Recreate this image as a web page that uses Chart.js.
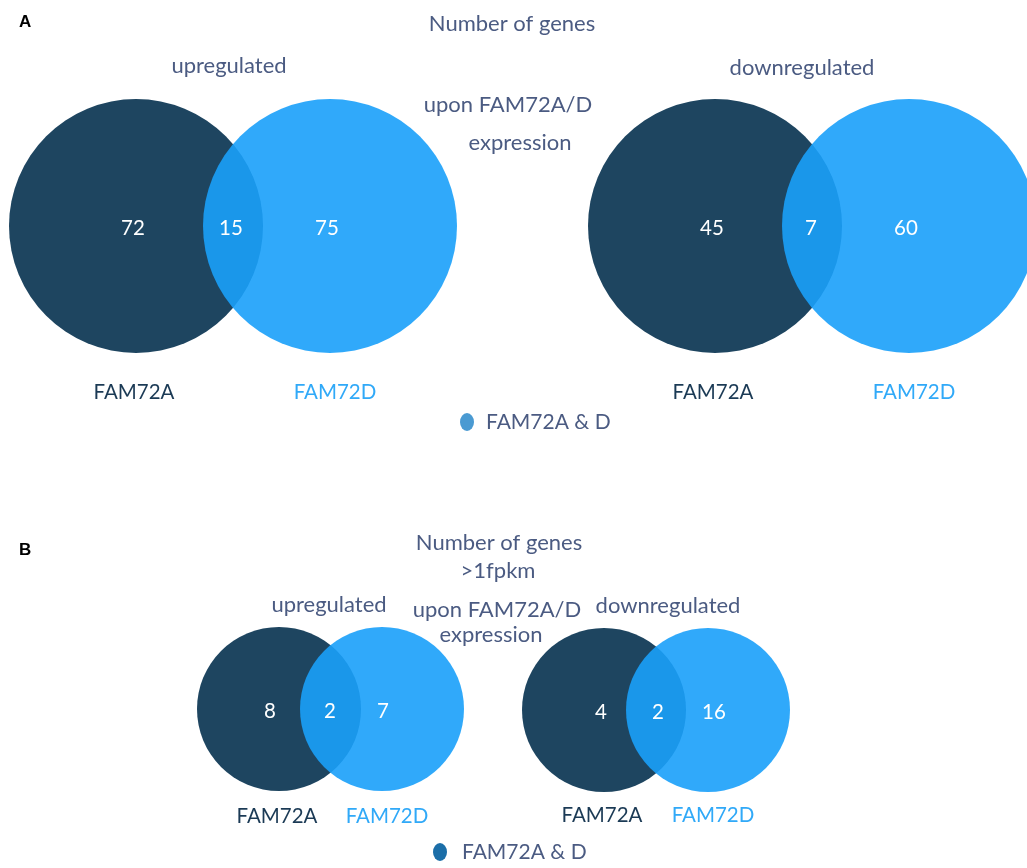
<!DOCTYPE html>
<html>
<head>
<meta charset="utf-8">
<script src="https://cdn.jsdelivr.net/npm/chart.js@4.4.1/dist/chart.umd.min.js"></script>
<style>
  html, body { margin: 0; padding: 0; background: #fff; }
  #wrap { width: 1027px; height: 868px; }
</style>
</head>
<body>
<div id="wrap"><canvas id="venn" width="1027" height="868"></canvas></div>
<script>
// gene counts per region: [FAM72A only, both, FAM72D only]
const upAll = [72, 15, 75];
const downAll = [45, 7, 60];
const upFpkm = [8, 2, 7];
const downFpkm = [4, 2, 16];
const setNames = ['FAM72A', 'FAM72D'];
const bothLabel = 'FAM72A & D';

// where each diagram sits on the page (pixel space of the hidden scales)
const diagrams = [
  { counts: upAll,    ax: 136, dx: 330, y: 226, r: 127, labelY: 392, nums: [133, 231, 327] },
  { counts: downAll,  ax: 715, dx: 909, y: 226, r: 127, labelY: 392, nums: [712, 811, 906] },
  { counts: upFpkm,   ax: 279, dx: 382, y: 709, r: 82,  labelY: 816, nums: [270, 330, 383] },
  { counts: downFpkm, ax: 604, dx: 708, y: 710, r: 82,  labelY: 815, nums: [601, 658, 714] }
];

const titleColor = '#4b5b82';
const darkColor = '#1e4560';
const lightColor = 'rgba(25,160,249,0.9)';
const font = 'Lato, "Open Sans", sans-serif';

const texts = [
  { t: 'A', x: 19, y: 22, bold: true, color: '#000', size: 17, align: 'left' },
  { t: 'Number of genes', x: 512, y: 24 },
  { t: 'upregulated', x: 229, y: 66 },
  { t: 'upon FAM72A/D', x: 508, y: 105 },
  { t: 'expression', x: 520, y: 143 },
  { t: 'downregulated', x: 802, y: 68 },
  { t: 'B', x: 19, y: 550, bold: true, color: '#000', size: 17, align: 'left' },
  { t: 'Number of genes', x: 499, y: 543 },
  { t: '>1fpkm', x: 498, y: 571 },
  { t: 'upregulated', x: 329, y: 605 },
  { t: 'upon FAM72A/D', x: 497, y: 610 },
  { t: 'downregulated', x: 668, y: 606 },
  { t: 'expression', x: 491, y: 635 }
];

const legends = [
  { x: 467, y: 422, color: '#4a9ad2', tx: 486 },
  { x: 440, y: 852, color: '#1b6ea8', tx: 462 }
];

const vennText = {
  id: 'vennText',
  afterDatasetsDraw(chart) {
    const { ctx, scales: { x, y } } = chart;
    ctx.save();
    ctx.textBaseline = 'middle';

    texts.forEach(s => {
      ctx.fillStyle = s.color || titleColor;
      ctx.textAlign = s.align || 'center';
      ctx.font = (s.bold ? 'bold ' : '') + (s.size || 22) + 'px ' + (s.bold ? 'Arial, "Liberation Sans", sans-serif' : font);
      ctx.fillText(s.t, x.getPixelForValue(s.x), y.getPixelForValue(s.y));
    });

    diagrams.forEach(d => {
      ctx.textAlign = 'center';
      ctx.font = '20.5px ' + font;
      ctx.fillStyle = '#fff';
      d.counts.forEach((c, i) => {
        ctx.fillText(String(c), x.getPixelForValue(d.nums[i]), y.getPixelForValue(d.y + 2));
      });
      ctx.fillStyle = '#1b3a55';
      ctx.fillText(setNames[0], x.getPixelForValue(d.ax - 2), y.getPixelForValue(d.labelY));
      ctx.fillStyle = '#30a9f8';
      ctx.fillText(setNames[1], x.getPixelForValue(d.dx + 5), y.getPixelForValue(d.labelY));
    });

    legends.forEach(l => {
      ctx.fillStyle = l.color;
      ctx.beginPath();
      ctx.ellipse(x.getPixelForValue(l.x), y.getPixelForValue(l.y), 7, 9, 0, 0, Math.PI * 2);
      ctx.fill();
      ctx.fillStyle = titleColor;
      ctx.textAlign = 'left';
      ctx.font = '21px ' + font;
      ctx.fillText(bothLabel, x.getPixelForValue(l.tx), y.getPixelForValue(l.y));
    });
    ctx.restore();
  }
};

// dataset 0 is painted last, so the translucent FAM72D circles sit on top
new Chart(document.getElementById('venn'), {
  type: 'bubble',
  data: {
    datasets: [
      {
        label: setNames[1],
        data: diagrams.map(d => ({ x: d.dx, y: d.y, r: d.r })),
        backgroundColor: lightColor,
        borderWidth: 0,
        hoverRadius: 0,
        clip: false
      },
      {
        label: setNames[0],
        data: diagrams.map(d => ({ x: d.ax, y: d.y, r: d.r })),
        backgroundColor: darkColor,
        borderWidth: 0,
        hoverRadius: 0,
        clip: false
      }
    ]
  },
  options: {
    responsive: false,
    animation: false,
    events: [],
    layout: { padding: 0, autoPadding: false },
    plugins: { legend: { display: false }, tooltip: { enabled: false } },
    scales: {
      x: { type: 'linear', min: 0, max: 1027, display: false },
      y: { type: 'linear', min: 0, max: 868, reverse: true, display: false }
    }
  },
  plugins: [vennText]
});
</script>
</body>
</html>
